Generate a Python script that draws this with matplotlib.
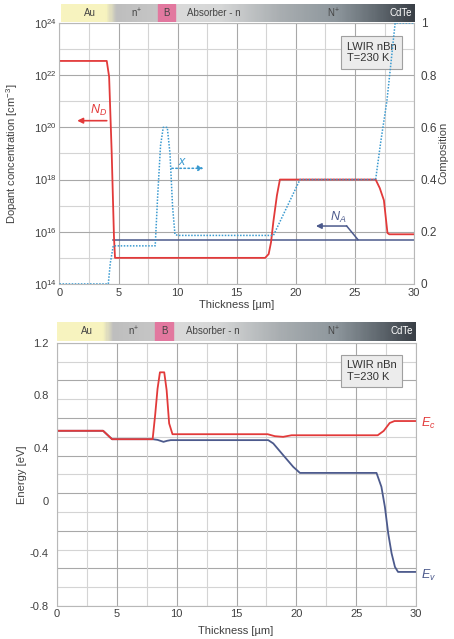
import numpy as np
import matplotlib
matplotlib.use('Agg')
import matplotlib.pyplot as plt
from matplotlib.colors import LinearSegmentedColormap
from matplotlib.ticker import FixedLocator, NullFormatter

plt.rcParams['font.family'] = ['Liberation Sans', 'DejaVu Sans']
plt.rcParams['mathtext.fontset'] = 'custom'
plt.rcParams['mathtext.rm'] = 'Liberation Sans'
plt.rcParams['mathtext.it'] = 'Liberation Sans:italic'

# --- data ---
# donor concentration N_D [cm^-3]
nd_x = [0, 4.0, 4.2, 4.42, 4.61, 4.7, 17.4, 17.7, 17.9, 18.1, 18.4, 18.65,
        26.75, 27.1, 27.45, 27.6, 27.75, 27.9, 30]
nd_y = [3.5e22, 3.5e22, 8.7e21, 1e19, 6.5e15, 1e15, 1e15, 1.4e15, 4e15, 2.5e16, 2.5e17, 1e18,
        1e18, 4.7e17, 1.6e17, 3.8e16, 9e15, 8e15, 8e15]
# acceptor concentration N_A
na_x = [4.55, 30]
na_y = [5e15, 5e15]
# composition x
cx_x = [0, 4.13, 4.3, 4.55, 8.1, 8.3, 8.55, 8.78, 9.12, 9.35, 9.57, 9.77, 10.0,
        18.1, 20.35, 26.75, 27.2, 27.7, 28.1, 28.4, 30]
cx_y = [0, 0, 0.08, 0.146, 0.146, 0.33, 0.53, 0.6, 0.6, 0.5, 0.296, 0.19, 0.186,
        0.186, 0.4, 0.4, 0.55, 0.7, 0.87, 1.0, 1.0]

# band edges [eV]
ec_x = [0, 3.85, 4.6, 7.99, 8.2, 8.4, 8.6, 8.96, 9.16, 9.37, 9.65, 17.6, 18.2, 18.9,
        19.6, 26.8, 27.3, 27.8, 28.2, 30]
ec_y = [0.531, 0.531, 0.467, 0.467, 0.65, 0.85, 0.975, 0.975, 0.84, 0.587, 0.505, 0.505,
        0.49, 0.485, 0.497, 0.497, 0.53, 0.59, 0.605, 0.605]
ev_x = [0, 3.85, 4.6, 8.0, 8.4, 8.9, 9.2, 9.5, 17.65, 18.07, 18.9, 19.74, 20.3,
        26.7, 27.11, 27.4, 27.68, 27.96, 28.24, 28.5, 30]
ev_y = [0.531, 0.531, 0.467, 0.467, 0.462, 0.447, 0.455, 0.46, 0.46, 0.435, 0.346, 0.257, 0.211,
        0.211, 0.105, -0.047, -0.25, -0.40, -0.503, -0.541, -0.541]

layer_names = ['Au', 'n$^{+}$', 'B', 'Absorber - n', 'N$^{+}$', 'CdTe']
layer_pos = [2.5, 6.4, 8.95, 13.0, 23.1, 28.8]

dec_ticks = [1e14, 1e16, 1e18, 1e20, 1e22, 1e24]
dec_labels = ['10$^{14}$', '10$^{16}$', '10$^{18}$', '10$^{20}$', '10$^{22}$', '10$^{24}$']
comp_ticks = [0, 0.2, 0.4, 0.6, 0.8, 1]
comp_labels = ['0', '0.2', '0.4', '0.6', '0.8', '1']
e_ticks = [-0.8, -0.4, 0, 0.4, 0.8, 1.2]
e_labels = ['-0.8', '-0.4', '0', '0.4', '0.8', '1.2']

RED = '#e23a3a'
BLUE = '#4c5a8c'
CYAN = '#3a9ad0'
TXT = '#404040'
MAJ = '#a8a8a8'
MIN = '#d4d4d4'

cmap = LinearSegmentedColormap.from_list('layers', [
    (0.0, '#f8f4bf'), (0.125, '#f7f3bf'), (0.155, '#bebebe'), (0.27, '#c6c6c6'),
    (0.32, '#dadada'), (0.45, '#d6d7d7'), (0.62, '#a9aeb1'), (0.78, '#8d969c'),
    (0.9, '#60686f'), (1.0, '#3a4047')])


def header(rect):
    h = fig.add_axes(rect)
    h.imshow(np.linspace(0, 1, 300)[None, :], cmap=cmap, aspect='auto',
             extent=(0, 30, 0, 1))
    h.axvspan(8.2, 9.7, color='#e2789f')
    for name, p in zip(layer_names, layer_pos):
        h.text(p, 0.5, name, ha='center', va='center', fontsize=7,
               color='white' if name == 'CdTe' else '#444444')
    h.set_xlim(0, 30)
    h.set_ylim(0, 1)
    h.axis('off')


def style(ax):
    ax.set_xlim(0, 30)
    ax.set_xticks([0, 5, 10, 15, 20, 25, 30])
    ax.xaxis.set_minor_locator(FixedLocator([2.5, 7.5, 12.5, 17.5, 22.5, 27.5]))
    ax.tick_params(which='both', length=0, labelsize=8, labelcolor=TXT, pad=2)
    for s in ax.spines.values():
        s.set_color('#b8b8b8')
        s.set_linewidth(0.8)
    ax.grid(which='major', axis='x', color=MAJ, lw=0.8)
    ax.grid(which='minor', axis='x', color=MIN, lw=0.8)
    ax.set_axisbelow(True)


fig = plt.figure(figsize=(4.54, 6.39), dpi=100)

# ---------- top panel: doping and composition ----------
ax1 = fig.add_axes([0.131, 0.5556, 0.781, 0.4085])
style(ax1)
ax1.set_yscale('log')
ax1.set_ylim(1e14, 1e24)
ax1.yaxis.set_major_locator(FixedLocator(dec_ticks))
ax1.set_yticklabels(dec_labels)
ax1.yaxis.set_minor_locator(FixedLocator([1e15, 1e17, 1e19, 1e21, 1e23]))
ax1.yaxis.set_minor_formatter(NullFormatter())
ax1.grid(which='major', axis='y', color=MAJ, lw=0.8)
ax1.grid(which='minor', axis='y', color=MIN, lw=0.8)
ax1.tick_params(axis='x', pad=3)

ax1r = ax1.twinx()
ax1r.set_ylim(0, 1)
ax1r.set_yticks(comp_ticks)
ax1r.set_yticklabels(comp_labels)
ax1r.tick_params(length=0, labelsize=8.5, labelcolor=TXT, pad=5)
for s in ax1r.spines.values():
    s.set_visible(False)

ax1r.plot(cx_x, cx_y, color=CYAN, lw=1.1, ls=(0, (1, 1)))
ax1.plot(na_x, na_y, color=BLUE, lw=1.1)
ax1.plot(nd_x, nd_y, color=RED, lw=1.3)

ax1.annotate('', xy=(1.5, 1.8e20), xytext=(4.0, 1.8e20),
             arrowprops=dict(arrowstyle='-|>', color=RED, lw=1.2, mutation_scale=8,
                             shrinkA=0, shrinkB=0))
ax1.text(3.3, 4.6e20, '$N_D$', color=RED, fontsize=9, ha='center', va='center')
ax1.annotate('', xy=(12.2, 2.7e18), xytext=(9.5, 2.7e18),
             arrowprops=dict(arrowstyle='-|>', color=CYAN, lw=1.1, ls=':',
                             mutation_scale=8, shrinkA=0, shrinkB=0))
ax1.text(10.45, 4.6e18, '$x$', color=CYAN, fontsize=9, ha='center', va='center')
ax1.plot([25.25, 24.3], [5e15, 1.66e16], color=BLUE, lw=1.1)
ax1.annotate('', xy=(21.7, 1.66e16), xytext=(24.3, 1.66e16),
             arrowprops=dict(arrowstyle='-|>', color=BLUE, lw=1.1, mutation_scale=8,
                             shrinkA=0, shrinkB=0))
ax1.text(23.6, 3.5e16, '$N_A$', color=BLUE, fontsize=9, ha='center', va='center')

box = dict(boxstyle='square,pad=0.5', fc='#ececec', ec='#a0a0a0', lw=0.8)
ax1.text(0.881, 0.887, 'LWIR nBn\nT=230 K', transform=ax1.transAxes, fontsize=8,
         color='#333333', ha='center', va='center', multialignment='left',
         bbox=box, linespacing=1.2)

header([0.134, 0.9656, 0.779, 0.0281])

# ---------- bottom panel: band diagram ----------
ax2 = fig.add_axes([0.1256, 0.0516, 0.7907, 0.4121])
style(ax2)
ax2.set_ylim(-0.8, 1.2)
ax2.set_yticks(e_ticks)
ax2.set_yticklabels(e_labels)
ax2.tick_params(axis='y', pad=6)
for k, yy in enumerate(np.linspace(-0.8, 1.2, 15)):
    ax2.axhline(yy, color=MAJ if k % 2 == 0 else MIN, lw=0.8, zorder=0.5)

ax2.plot(ev_x, ev_y, color=BLUE, lw=1.3)
ax2.plot(ec_x, ec_y, color=RED, lw=1.3)
ax2.text(30.4, 0.59, '$E_c$', color=RED, fontsize=9, va='center')
ax2.text(30.4, -0.57, '$E_v$', color=BLUE, fontsize=9, va='center')
ax2.text(0.877, 0.893, 'LWIR nBn\nT=230 K', transform=ax2.transAxes, fontsize=8,
         color='#333333', ha='center', va='center', multialignment='left',
         bbox=box, linespacing=1.2)

header([0.1256, 0.4664, 0.7907, 0.0297])

fig.text(0.026, 0.76, 'Dopant concentration [cm$^{-3}$]', rotation=90, ha='center',
         va='center', fontsize=8, color=TXT)
fig.text(0.976, 0.76, 'Composition', rotation=90, ha='center', va='center',
         fontsize=8, color=TXT)
fig.text(0.522, 0.522, 'Thickness [µm]', ha='center', va='center', fontsize=8, color=TXT)
fig.text(0.048, 0.257, 'Energy [eV]', rotation=90, ha='center', va='center',
         fontsize=8, color=TXT)
fig.text(0.52, 0.0125, 'Thickness [µm]', ha='center', va='center', fontsize=8, color=TXT)

fig.savefig('out.png', dpi=100, facecolor='white')
